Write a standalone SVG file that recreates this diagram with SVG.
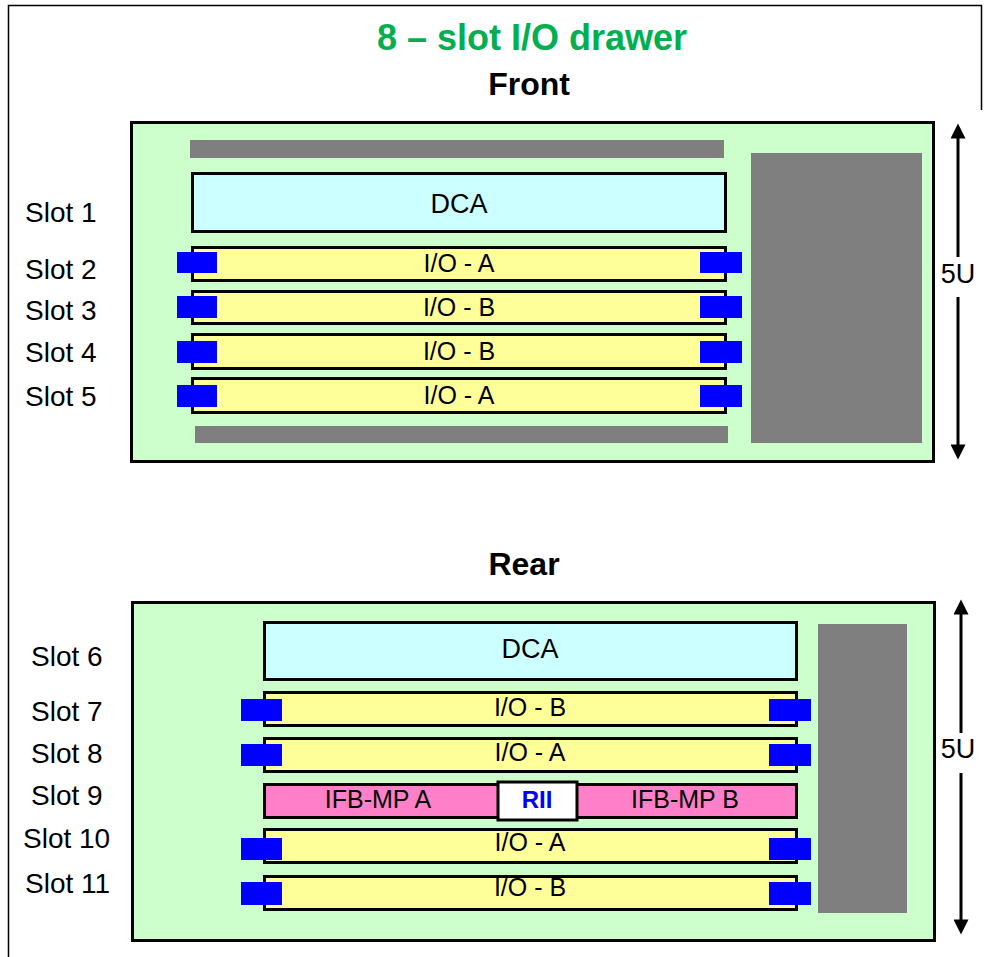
<svg xmlns="http://www.w3.org/2000/svg" width="985" height="957" viewBox="0 0 985 957">
<style>
  text { font-family: "Liberation Sans", Arial, sans-serif; fill: #000; }
  .drawer { fill: #CCFFCC; stroke: #000; stroke-width: 3; }
  .gray { fill: #7F7F7F; }
  .dca { fill: #CCFFFF; stroke: #000; stroke-width: 3; }
  .io { fill: #FFFF99; stroke: #000; stroke-width: 3; }
  .ifb { fill: #FF80C8; stroke: #000; stroke-width: 3; }
  .rii { fill: #FFFFFF; stroke: #000; stroke-width: 3; }
  .conn { fill: #0000FF; }
  .slot { font-size: 28px; }
  .lbl { font-size: 25px; text-anchor: middle; }
  .dcat { font-size: 27px; text-anchor: middle; }
  .head { font-size: 32px; font-weight: bold; text-anchor: middle; }
  .title { font-size: 36px; font-weight: bold; text-anchor: middle; fill: #00B050; }
  .u { font-size: 27px; text-anchor: middle; }
  .dim { stroke: #000; stroke-width: 3; fill: none; marker-end: url(#ah); }
  .seg { stroke: #000; stroke-width: 3; }
</style>
<defs>
  <marker id="ah" markerUnits="userSpaceOnUse" viewBox="0 0 16 16" refX="8" refY="8" markerWidth="16" markerHeight="15" orient="auto">
    <path d="M0,0 L16,8 L0,16 z" fill="#000"/>
  </marker>
</defs>
<rect width="985" height="957" fill="#FFFFFF"/>
<polyline points="8.5,957 8.5,5.5 981.5,5.5 981.5,110" fill="none" stroke="#000" stroke-width="1.5"/>

<g id="title">
  <text class="title" x="532" y="50">8 – slot I/O drawer</text>
  <text class="head" x="529" y="95">Front</text>
  <text class="head" x="524" y="575">Rear</text>
</g>

<!-- FRONT -->
<g id="front-drawer">
  <rect class="drawer" x="131.5" y="122.5" width="802" height="339"/>
  <rect class="gray" x="190" y="140" width="534" height="18"/>
  <rect class="gray" x="195" y="426" width="533" height="17"/>
  <rect class="gray" x="751" y="153" width="171" height="290"/>
</g>
<g id="front-slot1">
  <rect class="dca" x="192.5" y="173.5" width="533" height="58"/>
  <text class="dcat" x="459" y="213">DCA</text>
  <text class="slot" x="25" y="222">Slot 1</text>
</g>
<g id="front-slot2">
  <rect class="io" x="192.5" y="247.5" width="533" height="33"/>
  <rect class="conn" x="177" y="252" width="40" height="21"/>
  <rect class="conn" x="700" y="252" width="42" height="21"/>
  <text class="lbl" x="459" y="272">I/O - A</text>
  <text class="slot" x="25" y="279">Slot 2</text>
</g>
<g id="front-slot3">
  <rect class="io" x="192.5" y="291.5" width="533" height="32"/>
  <line class="seg" x1="408" y1="291.5" x2="524" y2="291.5"/>
  <rect class="conn" x="177" y="296" width="40" height="22"/>
  <rect class="conn" x="700" y="296" width="42" height="22"/>
  <text class="lbl" x="459" y="316">I/O - B</text>
  <text class="slot" x="25" y="320">Slot 3</text>
</g>
<g id="front-slot4">
  <rect class="io" x="192.5" y="334.5" width="533" height="34"/>
  <rect class="conn" x="177" y="341" width="40" height="22"/>
  <rect class="conn" x="700" y="341" width="42" height="22"/>
  <text class="lbl" x="459" y="360">I/O - B</text>
  <text class="slot" x="25" y="362">Slot 4</text>
</g>
<g id="front-slot5">
  <rect class="io" x="192.5" y="378.5" width="533" height="34"/>
  <rect class="conn" x="177" y="385" width="40" height="22"/>
  <rect class="conn" x="700" y="385" width="42" height="22"/>
  <text class="lbl" x="459" y="404">I/O - A</text>
  <text class="slot" x="25" y="406">Slot 5</text>
</g>

<!-- REAR -->
<g id="rear-drawer">
  <rect class="drawer" x="132.5" y="602.5" width="802" height="338"/>
  <rect class="gray" x="818" y="624" width="89" height="289"/>
</g>
<g id="rear-slot6">
  <rect class="dca" x="264.5" y="622.5" width="532" height="57"/>
  <text class="dcat" x="530" y="658">DCA</text>
  <text class="slot" x="31" y="666">Slot 6</text>
</g>
<g id="rear-slot7">
  <rect class="io" x="264.5" y="692.5" width="532" height="33"/>
  <line class="seg" x1="475" y1="692.5" x2="597" y2="692.5"/>
  <rect class="conn" x="241" y="699" width="41" height="22"/>
  <rect class="conn" x="769" y="699" width="42" height="22"/>
  <text class="lbl" x="530" y="716">I/O - B</text>
  <text class="slot" x="31" y="721">Slot 7</text>
</g>
<g id="rear-slot8">
  <rect class="io" x="264.5" y="738.5" width="532" height="33"/>
  <rect class="conn" x="241" y="744" width="41" height="22"/>
  <rect class="conn" x="769" y="744" width="42" height="22"/>
  <text class="lbl" x="530" y="761">I/O - A</text>
  <text class="slot" x="31" y="763">Slot 8</text>
</g>
<g id="rear-slot9">
  <rect class="ifb" x="264.5" y="784.5" width="532" height="33"/>
  <text class="lbl" x="378" y="808">IFB-MP A</text>
  <text class="lbl" x="685" y="808">IFB-MP B</text>
  <text class="slot" x="31" y="805">Slot 9</text>
</g>
<g id="rear-rii">
  <rect class="rii" x="498" y="782" width="79" height="38"/>
  <text x="537" y="808" font-size="24" font-weight="bold" text-anchor="middle" style="fill:#0000FF">RII</text>
</g>
<g id="rear-slot10">
  <rect class="io" x="264.5" y="829.5" width="532" height="33"/>
  <rect class="conn" x="241" y="838" width="41" height="22"/>
  <rect class="conn" x="769" y="838" width="42" height="22"/>
  <text class="lbl" x="530" y="851">I/O - A</text>
  <text class="slot" x="23" y="848">Slot 10</text>
</g>
<g id="rear-slot11">
  <rect class="io" x="264.5" y="876.5" width="532" height="33"/>
  <rect class="conn" x="241" y="882" width="41" height="23"/>
  <rect class="conn" x="769" y="882" width="42" height="23"/>
  <text class="lbl" x="530" y="896">I/O - B</text>
  <text class="slot" x="25" y="893">Slot 11</text>
</g>

<g id="connectors">
  <path class="dim" d="M958,257 V131"/>
  <path class="dim" d="M958,297 V452"/>
  <path class="dim" d="M961,733 V607"/>
  <path class="dim" d="M961,773 V927"/>
</g>
<g id="dim-labels">
  <text class="u" x="958" y="283">5U</text>
  <text class="u" x="958" y="758">5U</text>
</g>
</svg>
